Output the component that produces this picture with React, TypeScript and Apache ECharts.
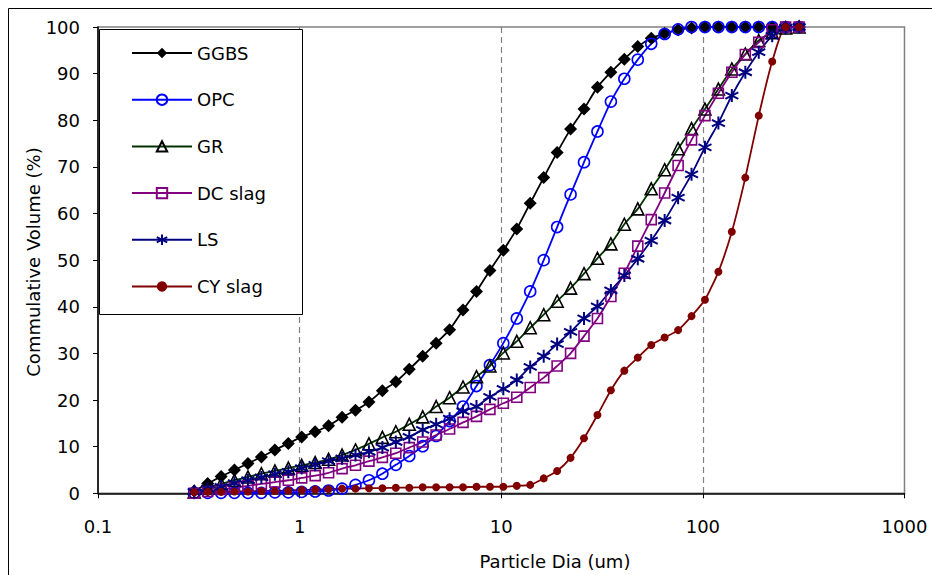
import React, { useEffect, useRef } from "react";
import * as echarts from "echarts";

// Particle diameters (um)
const sizes = [0.3, 0.35, 0.408, 0.475, 0.554, 0.646, 0.754, 0.879, 1.024, 1.194, 1.392, 1.624, 1.893, 2.207, 2.573, 3.0, 3.498, 4.078, 4.755, 5.544, 6.463, 7.536, 8.786, 10.24, 11.94, 13.92, 16.24, 18.93, 22.07, 25.73, 30.0, 34.98, 40.78, 47.55, 55.44, 64.63, 75.36, 87.86, 102.4, 119.4, 139.2, 162.4, 189.3, 220.7, 257.3, 300.0];

const ggbs = [0.5, 2.1, 3.6, 5.0, 6.4, 7.8, 9.3, 10.7, 12.1, 13.2, 14.5, 16.3, 17.8, 19.6, 22.0, 23.9, 26.6, 29.4, 32.2, 35.1, 39.3, 43.3, 47.8, 52.1, 56.7, 62.2, 67.7, 73.1, 78.1, 82.4, 87.1, 90.3, 93.1, 95.8, 97.6, 98.6, 99.4, 99.8, 100, 100, 100, 100, 100, 100, 100, 100];
const opc = [0.1, 0.1, 0.1, 0.1, 0.1, 0.1, 0.2, 0.2, 0.3, 0.4, 0.6, 1.0, 1.8, 2.8, 4.2, 6.1, 8.0, 10.1, 12.3, 15.5, 18.6, 23.0, 27.5, 32.2, 37.5, 43.3, 50.0, 57.1, 64.1, 71.0, 77.6, 84.0, 88.9, 93.0, 96.4, 98.5, 99.5, 100, 100, 100, 100, 100, 100, 100, 100, 100];
const gr = [0.3, 1.2, 2.0, 2.8, 3.5, 4.2, 4.8, 5.4, 6.0, 6.6, 7.3, 8.2, 9.3, 10.6, 12.0, 13.2, 14.8, 16.4, 18.6, 20.5, 22.8, 25.0, 27.3, 30.1, 32.6, 35.5, 38.3, 41.2, 44.0, 47.1, 50.4, 53.5, 57.7, 61.0, 65.3, 69.4, 73.9, 78.2, 82.4, 86.7, 91.0, 94.2, 97.1, 98.8, 99.8, 100];
const dcSlag = [0.0, 0.4, 0.8, 1.2, 1.6, 2.0, 2.4, 2.8, 3.3, 3.8, 4.4, 5.3, 6.0, 6.9, 7.7, 8.6, 9.8, 11.0, 12.5, 13.8, 15.2, 16.5, 18.0, 19.3, 20.6, 22.7, 24.8, 27.3, 30.0, 33.7, 37.5, 42.2, 47.2, 53.0, 58.7, 64.4, 70.3, 75.8, 81.0, 85.8, 90.3, 94.1, 96.7, 99.4, 100, 100];
const ls = [0.3, 1.0, 1.4, 2.2, 2.8, 3.4, 4.1, 4.6, 5.4, 6.1, 6.9, 7.5, 8.2, 8.9, 9.8, 11.0, 12.1, 13.6, 14.8, 16.0, 17.6, 18.6, 20.7, 22.4, 24.3, 27.1, 29.4, 32.0, 34.6, 37.5, 40.1, 43.5, 46.7, 50.3, 54.2, 58.5, 63.4, 68.4, 74.2, 79.4, 85.3, 90.3, 94.6, 98.1, 99.8, 100];
const cySlag = [0.2, 0.3, 0.3, 0.4, 0.4, 0.5, 0.5, 0.6, 0.7, 0.8, 0.9, 1.0, 1.0, 1.1, 1.1, 1.2, 1.2, 1.3, 1.3, 1.3, 1.3, 1.4, 1.4, 1.4, 1.6, 1.8, 3.2, 4.8, 7.6, 11.8, 16.8, 22.1, 26.3, 29.1, 31.8, 33.4, 35.0, 38.0, 41.5, 47.5, 56.1, 67.7, 81.0, 92.6, 100, 100];

const seriesNames = ["GGBS", "OPC", "GR", "DC slag", "LS", "CY slag"];
const xTitle = "Particle Dia (um)";
const yTitle = "Commulative Volume (%)";

const FONT = "DejaVu Sans";
const ASTERISK = "path://M0,-10L0,10M-8.66,-5L8.66,5M-8.66,5L8.66,-5";

const pairs = (ys: number[]) => sizes.map((x, i) => [x, ys[i]]);

export default function App() {
  const ref = useRef<HTMLDivElement>(null);
  useEffect(() => {
    document.body.style.margin = "0";
    if (!ref.current) return;
    const chart = echarts.init(ref.current, null, { renderer: "svg" });

    const mk = (
      name: string,
      data: number[],
      lineColor: string,
      symbol: string,
      symbolSize: number,
      fill: string,
      border: string,
      borderWidth: number
    ) => ({
      name,
      type: "line",
      data: pairs(data),
      symbol,
      symbolSize,
      showSymbol: true,
      showAllSymbol: true,
      smooth: 0.2,
      lineStyle: { color: lineColor, width: 1.8 },
      itemStyle: { color: fill, borderColor: border, borderWidth },
      emphasis: { disabled: true },
    });

    const option: any = {
      animation: false,
      textStyle: { fontFamily: FONT },
      grid: {
        left: 98,
        top: 27,
        right: 27.5,
        bottom: 81.7,
        show: true,
        borderColor: "#808080",
        borderWidth: 1.5,
        backgroundColor: "transparent",
      },
      legend: {
        orient: "vertical",
        left: 131,
        top: 43,
        padding: 0,
        itemWidth: 60,
        itemHeight: 13,
        itemGap: 26.7,
        z: 10,
        selectedMode: false,
        data: seriesNames,
        textStyle: { fontFamily: FONT, fontSize: 18, color: "#000", lineHeight: 20 },
      },
      xAxis: {
        type: "log",
        logBase: 10,
        min: 0.1,
        max: 1000,
        axisLine: { show: true, lineStyle: { color: "#000", width: 1.5 } },
        axisTick: { show: true, length: 5, lineStyle: { color: "#000", width: 1 } },
        minorTick: { show: false },
        axisLabel: {
          fontFamily: FONT,
          fontSize: 18,
          color: "#000",
          margin: 24,
          formatter: (v: number) => (v < 1 ? v.toFixed(1) : String(Math.round(v))),
        },
        splitLine: {
          show: true,
          showMinLine: false,
          showMaxLine: false,
          lineStyle: { color: "#808080", type: [6, 4], width: 1.2 },
        },
      },
      yAxis: {
        type: "value",
        min: 0,
        max: 100,
        interval: 10,
        axisLine: { show: true, lineStyle: { color: "#000", width: 1.5 } },
        axisTick: { show: true, length: 5, lineStyle: { color: "#000", width: 1 } },
        axisLabel: { fontFamily: FONT, fontSize: 18, color: "#000", margin: 18 },
        splitLine: { show: false },
      },
      graphic: [
        {
          type: "rect",
          silent: true,
          z: -10,
          shape: { x: 8.5, y: 8.5, width: 1000, height: 1000 },
          style: { fill: "none", stroke: "#000", lineWidth: 1 },
        },
        {
          type: "rect",
          silent: true,
          z: 5,
          shape: { x: 99.5, y: 29.5, width: 203, height: 285 },
          style: { fill: "#fff", stroke: "#000", lineWidth: 1 },
        },
        {
          type: "text",
          silent: true,
          x: 555,
          y: 561,
          style: {
            text: xTitle,
            fontFamily: FONT,
            fontSize: 18,
            fill: "#000",
            align: "center",
            verticalAlign: "middle",
          },
        },
        {
          type: "text",
          silent: true,
          x: 33,
          y: 262,
          rotation: Math.PI / 2,
          style: {
            text: yTitle,
            fontFamily: FONT,
            fontSize: 18,
            fill: "#000",
            align: "center",
            verticalAlign: "middle",
          },
        },
      ],
      series: [
        mk(seriesNames[0], ggbs, "#000000", "diamond", 13, "#000000", "#000000", 0),
        mk(seriesNames[1], opc, "#0000FF", "circle", 11, "none", "#0000FF", 1.6),
        mk(seriesNames[2], gr, "#003300", "triangle", 12, "none", "#000000", 1.6),
        mk(seriesNames[3], dcSlag, "#800080", "rect", 10, "none", "#800080", 1.6),
        mk(seriesNames[4], ls, "#000080", ASTERISK, 13, "#000080", "#000080", 2),
        mk(seriesNames[5], cySlag, "#800000", "circle", 8, "#800000", "#800000", 0),
      ],
    };
    chart.setOption(option);
    return () => chart.dispose();
  }, []);
  return <div ref={ref} style={{ width: 932, height: 575 }} />;
}
